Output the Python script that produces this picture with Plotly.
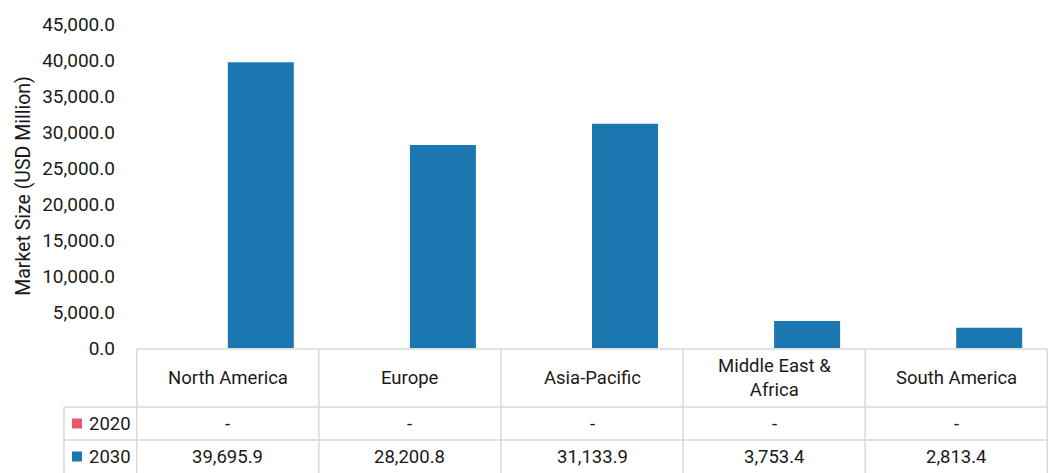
import plotly.graph_objects as go

categories = ["North America", "Europe", "Asia-Pacific", "Middle East &<br>Africa", "South America"]
years = ["2020", "2030"]
values_2020 = [None, None, None, None, None]
values_2030 = [39695.9, 28200.8, 31133.9, 3753.4, 2813.4]
y_ticks = [0, 5000, 10000, 15000, 20000, 25000, 30000, 35000, 40000, 45000]

colors = {"2020": "#e8566b", "2030": "#1a77b0"}
W, H = 1048, 473
FONT = "Roboto"
TXT = "#1a1a1a"
GRID = "#d9d9d9"
FS = 18.5

def py(p):
    return (H - p) / H

fig = go.Figure()
for yr, vals in zip(years, [values_2020, values_2030]):
    fig.add_trace(go.Bar(x=categories, y=vals, name=yr, marker_color=colors[yr],
                         marker_line_width=0, showlegend=False))

shapes = []
annotations = []
n = len(categories)
# table horizontal lines
for yp, x0p in [(349, 136), (407, 64), (440, 64)]:
    shapes.append(dict(type="line", xref="paper", yref="paper", x0=x0p / W, x1=1,
                       y0=py(yp), y1=py(yp), line=dict(color=GRID, width=1.5)))
# vertical lines between categories (through the category axis)
for i in range(n + 1):
    shapes.append(dict(type="line", xref="x", yref="paper", x0=i - 0.5, x1=i - 0.5,
                       y0=py(349), y1=0, line=dict(color=GRID, width=1.5)))
shapes.append(dict(type="line", xref="paper", yref="paper", x0=64 / W, x1=64 / W,
                   y0=py(407), y1=0, line=dict(color=GRID, width=1.5)))

# header labels
for c in categories:
    annotations.append(dict(x=c, y=py(378), xref="x", yref="paper", text=c, showarrow=False,
                            font=dict(family=FONT, size=FS, color=TXT), yanchor="middle"))
# data rows
row_centers = {"2020": 423.5, "2030": 456.5}
for yr, vals in zip(years, [values_2020, values_2030]):
    yc = py(row_centers[yr])
    for c, v in zip(categories, vals):
        txt = "-" if v is None else f"{v:,.1f}"
        annotations.append(dict(x=c, y=yc, xref="x", yref="paper", text=txt, showarrow=False,
                                font=dict(family=FONT, size=FS, color=TXT), yanchor="middle"))
    shapes.append(dict(type="rect", xref="paper", yref="paper", x0=72 / W, x1=82 / W,
                       y0=yc - 5 / H, y1=yc + 5 / H, fillcolor=colors[yr], line=dict(width=0)))
    annotations.append(dict(x=87 / W, y=yc, xref="paper", yref="paper", text=yr, showarrow=False,
                            xanchor="left", yanchor="middle",
                            font=dict(family=FONT, size=FS, color=TXT)))

fig.update_layout(
    width=W, height=H,
    margin=dict(l=0, r=0, t=0, b=0, autoexpand=False),
    plot_bgcolor="white", paper_bgcolor="white",
    barmode="group", bargap=0.275, bargroupgap=0,
    font=dict(family=FONT, size=FS, color=TXT),
    xaxis=dict(domain=[136 / W, 1], showticklabels=False, showgrid=False, zeroline=False,
               showline=False, ticks="", automargin=False),
    yaxis=dict(domain=[py(348), py(24)], range=[0, 45000], tickvals=y_ticks,
               tickformat=",.1f", showgrid=False, zeroline=False, showline=False,
               ticks="", ticklabelstandoff=20, automargin=False,
               tickfont=dict(family=FONT, size=FS + 0.5, color=TXT),
               title=dict(text="Market Size (USD Million)", standoff=6,
                          font=dict(family=FONT, size=19.5, color=TXT))),
    shapes=shapes, annotations=annotations,
)
fig.write_html("out.html")
